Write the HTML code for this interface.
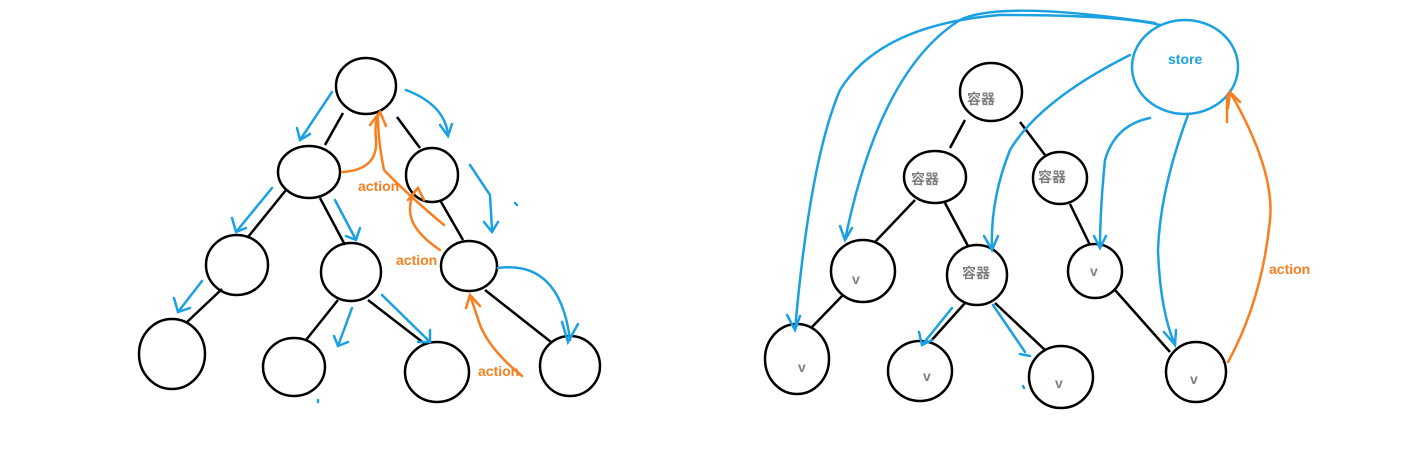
<!DOCTYPE html>
<html><head><meta charset="utf-8"><style>
html,body{margin:0;padding:0;background:#fff;}
svg{display:block;}
text{font-family:"Liberation Sans","Noto Sans CJK SC",sans-serif;font-weight:bold;font-size:14px;}
</style></head><body>
<svg width="1428" height="460" viewBox="0 0 1428 460" xmlns="http://www.w3.org/2000/svg">
<g fill="none" stroke="#000" stroke-width="2.5">
<ellipse cx="366" cy="86" rx="30" ry="28"/>
<ellipse cx="309" cy="172" rx="31" ry="26"/>
<ellipse cx="432" cy="175" rx="26" ry="27"/>
<ellipse cx="237" cy="265" rx="31" ry="30"/>
<ellipse cx="351" cy="272" rx="30" ry="29"/>
<ellipse cx="469" cy="266" rx="28" ry="25"/>
<ellipse cx="172" cy="354" rx="33" ry="35"/>
<ellipse cx="294" cy="367" rx="31" ry="29"/>
<ellipse cx="437" cy="372" rx="32" ry="30"/>
<ellipse cx="570" cy="366" rx="30" ry="30"/>
<path d="M343 113L325 145M397 117L420 148M286 190L248 237M320 198L345 245M440 200L463 240M222 289L187 322M338 300L306 340M368 300L425 344M485 290L551 342"/>
<ellipse cx="991" cy="92" rx="31" ry="29"/>
<ellipse cx="935" cy="177" rx="31" ry="26"/>
<ellipse cx="1060" cy="178" rx="27" ry="26"/>
<ellipse cx="863" cy="271" rx="32" ry="31"/>
<ellipse cx="977" cy="275" rx="30" ry="30"/>
<ellipse cx="1095" cy="271" rx="27" ry="27"/>
<ellipse cx="797" cy="359" rx="32" ry="35"/>
<ellipse cx="920" cy="371" rx="32" ry="30"/>
<ellipse cx="1061" cy="377" rx="32" ry="31"/>
<ellipse cx="1196" cy="372" rx="30" ry="30"/>
<path d="M965 120L950 148M1020 122L1045 155M915 200L875 242M945 203L968 246M1070 204L1090 245M843 295L812 327M965 303L930 342M995 303L1045 350M1115 290L1170 352"/>
</g>
<ellipse cx="1185" cy="67" rx="53" ry="47" fill="none" stroke="#1ba1e2" stroke-width="2.5"/>
<g fill="none" stroke="#1ba1e2" stroke-width="2.5" stroke-linecap="round">
<path d="M332 92L300 140M297 128L300 140L310 134"/>
<path d="M406 90Q445 105 448 135M440 125L448 136L452 124"/>
<path d="M272 188L236 232M232 218L236 232L246 228"/>
<path d="M335 200L356 240M346 236L356 240L360 228"/>
<path d="M470 165L490 195L492 230M484 222L492 232L498 222"/>
<path d="M515 203L517 205"/>
<path d="M202 281L178 312M174 298L178 312L190 308"/>
<path d="M352 308L338 346M334 336L338 346L348 342"/>
<path d="M382 295L430 342M418 342L430 342L430 330"/>
<path d="M318 400L318 402"/>
<path d="M498 268Q560 260 570 340M562 322L568 342L578 324"/>
<path d="M1160 25Q1120 15 1000 15Q880 25 840 90Q810 160 795 330M787 315L795 330L800 316"/>
<path d="M1155 23Q1000 0 960 20Q880 70 845 240M840 226L845 240L852 228"/>
<path d="M1130 55Q1040 100 1010 150Q990 200 992 250M984 236L992 250L998 236"/>
<path d="M1150 118Q1115 125 1105 160Q1100 210 1100 248M1094 236L1100 248L1106 236"/>
<path d="M1188 115Q1160 190 1158 250Q1160 310 1175 345M1164 332L1175 345L1176 330"/>
<path d="M952 308L922 345M919 332L922 345L932 340"/>
<path d="M993 305L1025 352M1020 354L1030 356"/>
<path d="M1023 386L1024 388"/>
</g>
<g fill="none" stroke="#f77f1f" stroke-width="2.5" stroke-linecap="round">
<path d="M342 172Q378 170 376 140Q374 120 380 112M370 125L380 112L386 126"/>
<path d="M444 225Q408 195 384 170Q378 140 378 118"/>
<path d="M440 250Q410 230 410 210Q410 195 418 188M408 200L418 188L424 200"/>
<path d="M522 376Q490 350 480 325L470 295M466 308L470 295L480 306"/>
<path d="M1228 362Q1262 300 1270 220Q1275 170 1230 92M1228 108L1230 92L1240 102"/>
<path d="M1227 95L1227 122"/>
</g>
<g fill="#f77f1f">
<text x="358" y="191">action</text>
<text x="396" y="265">action</text>
<text x="478" y="376">action</text>
<text x="1269" y="274">action</text>
</g>
<text x="1168" y="64" fill="#1ba1e2">store</text>
<g fill="#7f7f7f">
<text x="967" y="104">容器</text>
<text x="911" y="184">容器</text>
<text x="1038" y="182">容器</text>
<text x="962" y="278">容器</text>
<text x="852" y="284">v</text>
<text x="1090" y="276">v</text>
<text x="798" y="372">v</text>
<text x="923" y="381">v</text>
<text x="1055" y="388">v</text>
<text x="1190" y="384">v</text>
</g>
</svg>
</body></html>
